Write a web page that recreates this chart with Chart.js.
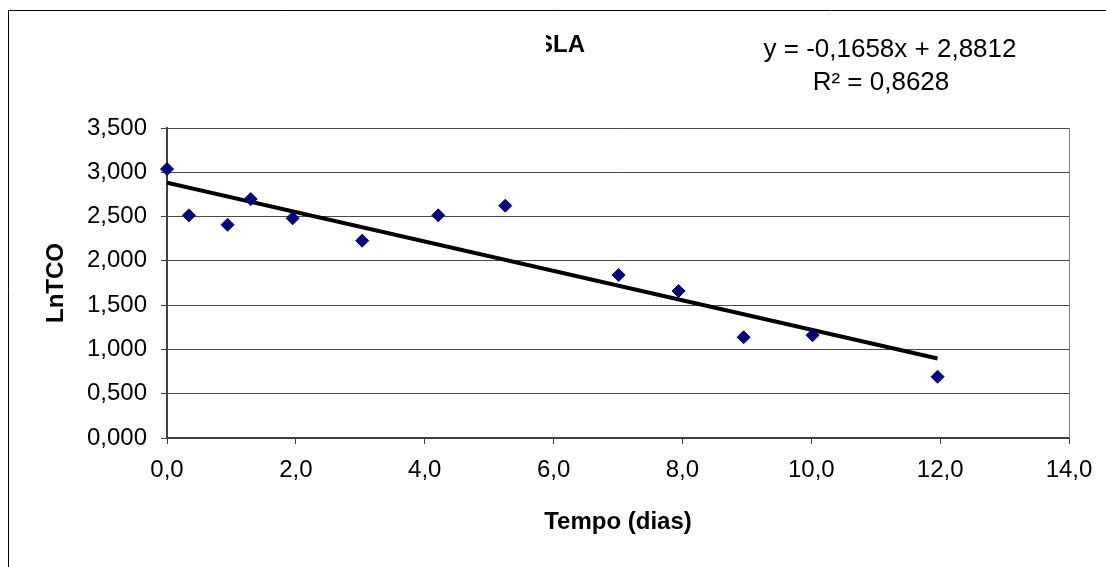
<!DOCTYPE html>
<html>
<head>
<meta charset="utf-8">
<title>LnTCO x Tempo</title>
<script src="https://cdn.jsdelivr.net/npm/chart.js@4/dist/chart.umd.min.js"></script>
<style>
    html, body { margin: 0; padding: 0; background: #ffffff; }
    #wrap { width: 1106px; height: 567px; position: relative; }
</style>
</head>
<body>
<div id="wrap"><canvas id="chart" width="1106" height="567"></canvas></div>
<script>
// dados
const TEMPO = [0, 0.34, 0.94, 1.30, 1.95, 3.03, 4.21, 5.25, 7.01, 7.94, 8.95, 10.02, 11.96];
const LNTCO = [3.037, 2.514, 2.408, 2.698, 2.480, 2.228, 2.514, 2.623, 1.840, 1.660, 1.137, 1.160, 0.692];

// linha de tendência (linear) do Excel
const TREND_SLOPE = -0.1658;
const TREND_INTERCEPT = 2.8812;
const TREND_X = [0, 11.96];

const TITLE_TEXT = 'SLA';
const EQ_TEXT = 'y = -0,1658x + 2,8812';
const R2_TEXT = 'R² = 0,8628';
const X_TITLE = 'Tempo (dias)';
const Y_TITLE = 'LnTCO';

const FONT = '"Liberation Sans", Arial, sans-serif';
const AZUL = '#000080';

const points = TEMPO.map((t, i) => ({ x: t, y: LNTCO[i] }));
const trend = TREND_X.map(x => ({ x: x, y: TREND_SLOPE * x + TREND_INTERCEPT }));

// moldura, borda da área de plotagem, título cortado e rótulo da tendência
const decorPlugin = {
    id: 'decor',
    afterDraw(chart) {
        const ctx = chart.ctx;
        const area = chart.chartArea;
        ctx.save();

        // moldura externa (sai da imagem à direita e embaixo)
        ctx.strokeStyle = '#000000';
        ctx.lineWidth = 1;
        ctx.beginPath();
        ctx.moveTo(8.5, chart.height);
        ctx.lineTo(8.5, 10.5);
        ctx.lineTo(chart.width, 10.5);
        ctx.stroke();

        // borda direita da área de plotagem
        ctx.strokeStyle = '#808080';
        ctx.beginPath();
        ctx.moveTo(Math.round(area.right) + 0.5, area.top);
        ctx.lineTo(Math.round(area.right) + 0.5, area.bottom);
        ctx.stroke();

        // título parcialmente escondido
        ctx.save();
        ctx.beginPath();
        ctx.rect(546, 20, 200, 50);
        ctx.clip();
        ctx.fillStyle = '#000000';
        ctx.font = 'bold 24px ' + FONT;
        ctx.textAlign = 'right';
        ctx.textBaseline = 'middle';
        ctx.fillText(TITLE_TEXT, 585, 45);
        ctx.restore();

        // equação da tendência
        ctx.fillStyle = '#000000';
        ctx.font = '26px ' + FONT;
        ctx.textAlign = 'center';
        ctx.textBaseline = 'middle';
        ctx.fillText(EQ_TEXT, 890, 50);
        ctx.fillText(R2_TEXT, 881, 83);

        ctx.restore();
    }
};

new Chart(document.getElementById('chart'), {
    type: 'scatter',
    data: {
        datasets: [{
            label: Y_TITLE,
            data: points,
            pointStyle: 'rectRot',
            pointRadius: 6.5,
            pointHoverRadius: 6.5,
            backgroundColor: AZUL,
            borderColor: AZUL,
            borderWidth: 1,
            clip: false,
            order: 1
        }, {
            label: 'Linear',
            type: 'line',
            data: trend,
            borderColor: '#000000',
            borderWidth: 4,
            pointRadius: 0,
            fill: false,
            tension: 0,
            order: 2
        }]
    },
    options: {
        responsive: false,
        animation: false,
        events: [],
        layout: { padding: { left: 0, top: 128, right: 37, bottom: 0 } },
        plugins: {
            legend: { display: false },
            tooltip: { enabled: false }
        },
        scales: {
            x: {
                type: 'linear',
                min: 0,
                max: 14,
                ticks: {
                    stepSize: 2,
                    padding: 12,
                    color: '#000000',
                    font: { family: FONT, size: 24 },
                    callback: v => v.toFixed(1).replace('.', ',')
                },
                grid: {
                    drawOnChartArea: false,
                    drawTicks: true,
                    tickLength: 6,
                    tickColor: '#404040'
                },
                border: { color: '#404040', width: 2 },
                title: {
                    display: true,
                    text: X_TITLE,
                    color: '#000000',
                    font: { family: FONT, size: 24, weight: 'bold' },
                    padding: { top: 0, bottom: 30 }
                },
                afterFit: scale => { scale.height = 129; }
            },
            y: {
                type: 'linear',
                min: 0,
                max: 3.5,
                ticks: {
                    stepSize: 0.5,
                    padding: 14,
                    color: '#000000',
                    font: { family: FONT, size: 24 },
                    callback: v => v.toFixed(3).replace('.', ',')
                },
                grid: {
                    color: '#4a4a4a',
                    lineWidth: 1,
                    drawTicks: true,
                    tickLength: 6,
                    tickColor: '#404040'
                },
                border: { color: '#404040', width: 2 },
                title: {
                    display: true,
                    text: Y_TITLE,
                    color: '#000000',
                    font: { family: FONT, size: 24, weight: 'bold' },
                    padding: { top: 42, bottom: 0 }
                },
                afterFit: scale => { scale.width = 167; }
            }
        }
    },
    plugins: [decorPlugin]
});
</script>
</body>
</html>
